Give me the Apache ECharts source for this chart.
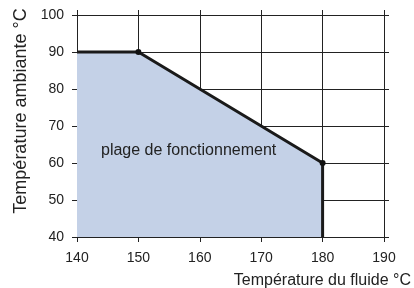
<!DOCTYPE html>
<html>
<head>
<meta charset="utf-8">
<script src="https://cdn.jsdelivr.net/npm/echarts@6/dist/echarts.min.js"></script>
<style>html,body{margin:0;padding:0;background:#fff}#c{width:414px;height:288px}</style>
</head>
<body>
<div id="c"></div>
<script>
var xTicks = [140, 150, 160, 170, 180, 190];
var yTicks = [40, 50, 60, 70, 80, 90, 100];
var boundaryX = [140, 150, 180, 180];
var boundaryY = [90, 90, 60, 40];
var markedPoints = [false, true, true, false];
var xTitle = 'Température du fluide °C';
var yTitle = 'Température ambiante °C';
var zoneLabel = 'plage de fonctionnement';

var FONT = 'Liberation Sans, Arial, sans-serif';
var INK = '#222';
var chart = echarts.init(document.getElementById('c'), null, {renderer: 'canvas'});

var seriesData = boundaryX.map(function (x, i) {
  return {
    value: [x, boundaryY[i]],
    symbolSize: markedPoints[i] ? 6 : 0
  };
});

function axisBase(extra) {
  var a = {
    type: 'value',
    axisLine: {show: true, lineStyle: {color: INK, width: 1}},
    axisTick: {show: true, length: 5, lineStyle: {color: INK, width: 1}},
    splitLine: {show: false}
  };
  for (var k in extra) a[k] = extra[k];
  return a;
}

chart.setOption({
  animation: false,
  grid: {left: 77, right: 30, top: 15, bottom: 51},
  xAxis: [
    axisBase({
      min: xTicks[0], max: xTicks[xTicks.length - 1], interval: xTicks[1] - xTicks[0],
      position: 'bottom',
      axisLabel: {color: INK, fontFamily: FONT, fontSize: 14, margin: 14},
      splitLine: {show: true, lineStyle: {color: INK, width: 1}}
    }),
    axisBase({
      min: xTicks[0], max: xTicks[xTicks.length - 1], interval: xTicks[1] - xTicks[0],
      position: 'top',
      axisLabel: {show: false}
    })
  ],
  yAxis: [
    axisBase({
      min: yTicks[0], max: yTicks[yTicks.length - 1], interval: yTicks[1] - yTicks[0],
      position: 'left',
      axisLabel: {color: INK, fontFamily: FONT, fontSize: 14, margin: 13},
      splitLine: {show: true, lineStyle: {color: INK, width: 1}}
    }),
    axisBase({
      min: yTicks[0], max: yTicks[yTicks.length - 1], interval: yTicks[1] - yTicks[0],
      position: 'right',
      axisLabel: {show: false}
    })
  ],
  series: [{
    type: 'line',
    data: seriesData,
    symbol: 'circle',
    showAllSymbol: true,
    itemStyle: {color: '#111'},
    lineStyle: {color: '#1a1a1a', width: 3},
    areaStyle: {color: '#c4d1e7', opacity: 1, origin: 'start'},
    z: 1
  }],
  graphic: [
    {
      type: 'text', x: 21, y: 111, rotation: Math.PI / 2,
      style: {text: yTitle, fill: INK, font: '18px ' + FONT, textAlign: 'center', textVerticalAlign: 'middle'}
    },
    {
      type: 'text', x: 411, y: 281,
      style: {text: xTitle, fill: INK, font: '16px ' + FONT, textAlign: 'right', textVerticalAlign: 'middle'}
    },
    {
      type: 'text', x: 101, y: 151, z: 10,
      style: {text: zoneLabel, fill: INK, font: '16px ' + FONT, textAlign: 'left', textVerticalAlign: 'middle'}
    }
  ]
});
</script>
</body>
</html>
